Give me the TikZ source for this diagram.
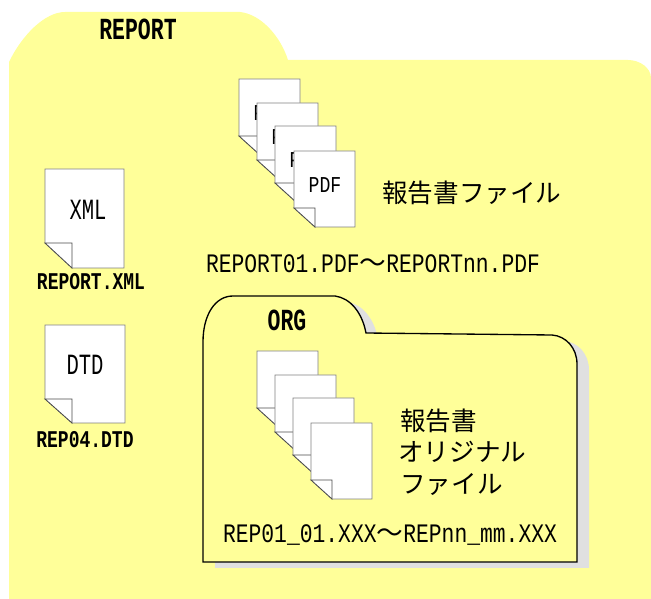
\documentclass[tikz,border=0pt]{standalone}
\usepackage{fontspec}
\newfontfamily\jpfont{Noto Sans CJK JP}
\newfontfamily\namefont[FakeStretch=.8]{Liberation Mono}
\newfontfamily\narrowfont[FakeStretch=.7]{Liberation Mono}
\newfontfamily\smallnamefont[FakeStretch=.75]{Liberation Mono}
\definecolor{folderyellow}{HTML}{FFFF99}
\definecolor{foldershadow}{HTML}{E0E0E0}
\newcommand{\orgoutline}{(203,562) -- (203,342) .. controls (203,315) and (215,296) .. (233,296) -- (335,296) .. controls (350,298) and (362,312) .. (366,333) -- (552,335) .. controls (566,336) and (577,348) .. (577,364) -- (577,562) -- cycle}
\tikzset{
  sheet/.style={draw=black!50,fill=white,line width=.6pt},
  sheetfold/.style={draw=black!70,fill=white,line width=.6pt},
  filename/.style={inner sep=0pt,text=black,font=\namefont\fontsize{20}{20}\selectfont},
  smallname/.style={inner sep=0pt,text=black,font=\smallnamefont\bfseries\fontsize{18}{18}\selectfont},
  foldertitle/.style={inner sep=0pt,text=black,font=\narrowfont\bfseries\fontsize{23}{23}\selectfont},
  sheettext/.style={inner sep=0pt,text=black,font=\narrowfont\fontsize{22}{22}\selectfont},
  pdftext/.style={inner sep=0pt,text=black,font=\namefont\fontsize{17}{17}\selectfont},
  jplabel/.style={inner sep=0pt,anchor=west,text=black,font=\jpfont\fontsize{19.2}{19.2}\selectfont},
  pics/pagesheet/.style args={#1/#2/#3/#4}{code={
    \path[sheet] (0,0) -- (#1,0) -- (#1,#2) -- (#3,#2) -- (0,#2-#4) -- cycle;
    \path[sheetfold] (0,#2-#4) -- (#3,#2-#4) -- (#3,#2) -- cycle;
  }},
}
\begin{document}
\begin{tikzpicture}[x=.75pt,y=-.75pt]
\useasboundingbox (0,0) rectangle (651,599);
% outer folder
\fill[folderyellow] (9,599) -- (9,62) .. controls (22,35) and (45,12) .. (65,12) -- (240,12) .. controls (260,14) and (280,35) .. (288,60) -- (628,60) .. controls (640,60) and (651,68) .. (651,78) -- (651,599) -- cycle;
\node[foldertitle] (reporttitle) at (138,29) {REPORT};
% single files
\pic at (45,169) {pagesheet=79/99/27/25};
\node[sheettext] (xmltext) at (88,210) {XML};
\node[smallname] (xmlname) at (91,282) {REPORT.XML};
\pic at (45,325) {pagesheet=80/98/27/24};
\node[sheettext] (dtdtext) at (85,365) {DTD};
\node[smallname] (dtdname) at (85,440) {REP04.DTD};
% report pages
\foreach \sx/\sy/\sid in {239/79/a,257/103/b,275/126/c,294/151/d}{
  \pic at (\sx,\sy) {pagesheet=61/76/21/19};
  \node[pdftext] (pdf\sid) at (\sx+31,\sy+34) {PDF};
}
\node[jplabel] (reportlabel) at (382,193) {報告書ファイル};
\node[filename] (reportrange) at (373,264) {REPORT01.PDF{\jpfont ～}REPORTnn.PDF};
% inner folder
\fill[foldershadow,xshift=9pt,yshift=-4.5pt] \orgoutline;
\fill[folderyellow,draw=black,line width=1pt] \orgoutline;
\node[foldertitle] (orgtitle) at (287,320) {ORG};
\foreach \sx/\sy/\sid in {257/351/a,275/375/b,293/398/c,311/423/d}{
  \pic at (\sx,\sy) {pagesheet=61/76/21/19};
}
\node[jplabel] (orglabela) at (400,421) {報告書};
\node[jplabel] (orglabelb) at (398,452) {オリジナル};
\node[jplabel] (orglabelc) at (400,484) {ファイル};
\node[filename] (orgrange) at (390,535) {REP01\_01.XXX{\jpfont ～}REPnn\_mm.XXX};
\end{tikzpicture}
\end{document}
